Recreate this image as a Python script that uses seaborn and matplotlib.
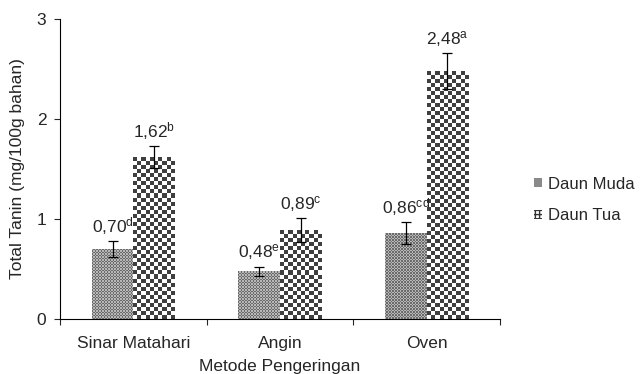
import numpy as np
import pandas as pd
import matplotlib
matplotlib.use("Agg")
import matplotlib.pyplot as plt
import seaborn as sns
from matplotlib.patches import Patch

# data
metode = ["Sinar Matahari", "Angin", "Oven"]
daun_muda = [0.70, 0.48, 0.86]
daun_tua = [1.62, 0.89, 2.48]
err_muda = [0.08, 0.045, 0.11]
err_tua = [0.11, 0.12, 0.18]
notasi_muda = ["d", "e", "cd"]
notasi_tua = ["b", "c", "a"]

df = pd.DataFrame({
    "metode": metode * 2,
    "jenis": ["Daun Muda"] * 3 + ["Daun Tua"] * 3,
    "nilai": daun_muda + daun_tua,
})

sns.set_style("white")
plt.rcParams["font.family"] = ["Liberation Sans", "DejaVu Sans"]
plt.rcParams["mathtext.fontset"] = "custom"
plt.rcParams["mathtext.rm"] = "Liberation Sans"
plt.rcParams["mathtext.it"] = "Liberation Sans"
fs = 12.5

fig = plt.figure(figsize=(6.4, 3.74), dpi=100)
ax = fig.add_axes([0.094, 0.147, 0.687, 0.802])

sns.barplot(data=df, x="metode", y="nilai", hue="jenis", order=metode,
            errorbar=None, width=0.57, palette=["#888888", "#ffffff"],
            edgecolor="none", legend=False, ax=ax)

ax.set_ylim(0, 3)
ax.set_xlim(-0.5, 2.5)
ax.set_yticks([0, 1, 2, 3])
ax.set_yticklabels(["0", "1", "2", "3"], fontsize=fs)
ax.set_xticks(range(len(metode)))
ax.set_xticklabels(metode, fontsize=fs)
ax.set_xticks([-0.5, 0.5, 1.5, 2.5], minor=True)
ax.tick_params(axis="x", which="major", length=0, pad=12)
ax.tick_params(axis="x", which="minor", length=4, width=0.8, direction="out", bottom=True)
ax.tick_params(axis="y", length=4, width=0.8, direction="out", left=True, pad=6)
for s in ["top", "right"]:
    ax.spines[s].set_visible(False)
for s in ["left", "bottom"]:
    ax.spines[s].set_color("black")
    ax.spines[s].set_linewidth(0.8)
ax.set_xlabel("Metode Pengeringan", fontsize=fs, labelpad=6)
ax.set_ylabel("Total Tanin (mg/100g bahan)", fontsize=fs, labelpad=8)

fig.canvas.draw()

def fill_pattern(patch, cell, c1, c2):
    ext = patch.get_window_extent()
    w = max(1, int(round(ext.width / cell)))
    h = max(1, int(round(ext.height / cell)))
    yy, xx = np.mgrid[0:h, 0:w]
    chk = ((xx + yy) % 2).astype(float)
    img = np.where(chk[..., None] > 0, np.array(c1), np.array(c2))
    x0, y0 = patch.get_x(), patch.get_y()
    im = ax.imshow(img, extent=(x0, x0 + patch.get_width(), y0, y0 + patch.get_height()),
                   origin="lower", interpolation="nearest", aspect="auto", zorder=2)
    im.set_clip_path(patch)

muda_c1 = (0.42, 0.42, 0.42)
muda_c2 = (0.72, 0.72, 0.72)
tua_c1 = (0.25, 0.25, 0.25)
tua_c2 = (1.0, 1.0, 1.0)

for cont, errs, nots, vals, pat in [
        (ax.containers[0], err_muda, notasi_muda, daun_muda, (1.5, muda_c1, muda_c2)),
        (ax.containers[1], err_tua, notasi_tua, daun_tua, (4.0, tua_c1, tua_c2))]:
    for bar, e, n, v in zip(cont, errs, nots, vals):
        fill_pattern(bar, *pat)
        cx = bar.get_x() + bar.get_width() / 2
        ax.errorbar(cx, v, yerr=e, color="black", lw=0.9, capsize=3.5,
                    capthick=0.9, zorder=4)
        lab = ("%.2f" % v).replace(".", ",") + r"$^{\mathrm{%s}}$" % n
        ax.annotate(lab, (cx, v + e), xytext=(0, 3), textcoords="offset points",
                    ha="center", va="bottom", fontsize=fs)

ax.set_xlim(-0.5, 2.5)
ax.set_ylim(0, 3)

handles = [Patch(facecolor="#8a8a8a", edgecolor="none", label="Daun Muda"),
           Patch(facecolor="#ffffff", edgecolor="#333333", hatch="++++", lw=0, label="Daun Tua")]
fig.legend(handles=handles, loc="center left", bbox_to_anchor=(0.835, 0.465),
           frameon=False, fontsize=12, handlelength=0.45, handleheight=0.45,
           handletextpad=0.35, labelspacing=1.0, borderpad=0, borderaxespad=0)

fig.savefig("out.png", dpi=100)
